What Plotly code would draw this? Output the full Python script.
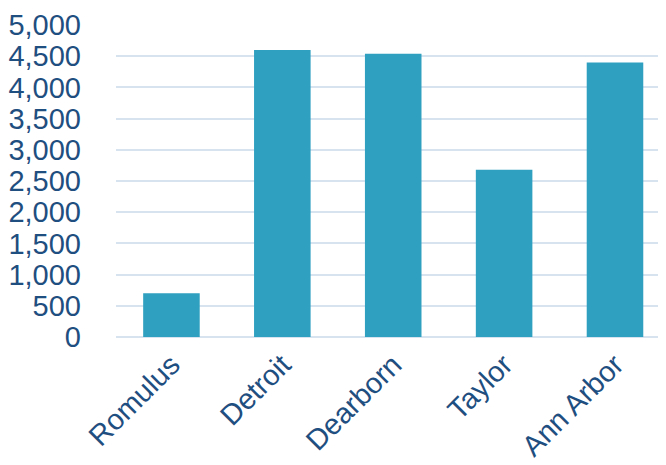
import plotly.graph_objects as go

cities = ["Romulus", "Detroit", "Dearborn", "Taylor", "Ann Arbor"]
values = [700, 4600, 4540, 2680, 4400]
y_ticks = [0, 500, 1000, 1500, 2000, 2500, 3000, 3500, 4000, 4500, 5000]

text_color = "#1F4E80"
grid_color = "#D8E3F0"

fig = go.Figure(
    go.Bar(
        x=cities,
        y=values,
        marker=dict(color="#2FA0C0", line=dict(width=0)),
        width=0.51,
    )
)

fig.update_layout(
    width=658,
    height=457,
    margin=dict(l=108, r=0, t=17, b=128),
    paper_bgcolor="white",
    plot_bgcolor="white",
    showlegend=False,
    font=dict(family="Liberation Sans, Arial, sans-serif", size=29, color=text_color),
)

fig.update_xaxes(
    type="category",
    range=[-0.5, 4.46],
    tickangle=-45,
    showgrid=False,
    showline=False,
    ticks="",
    tickfont=dict(size=29, color=text_color),
    ticklabelstandoff=4,
    automargin=False,
)

fig.update_yaxes(
    range=[0, 5000],
    tickvals=y_ticks,
    tickformat=",d",
    showgrid=True,
    gridcolor=grid_color,
    gridwidth=1.5,
    zeroline=True,
    zerolinecolor=grid_color,
    zerolinewidth=1.5,
    showline=False,
    ticks="",
    tickfont=dict(size=29, color=text_color),
    ticklabelstandoff=34,
    automargin=False,
)

fig.write_html("out.html")
